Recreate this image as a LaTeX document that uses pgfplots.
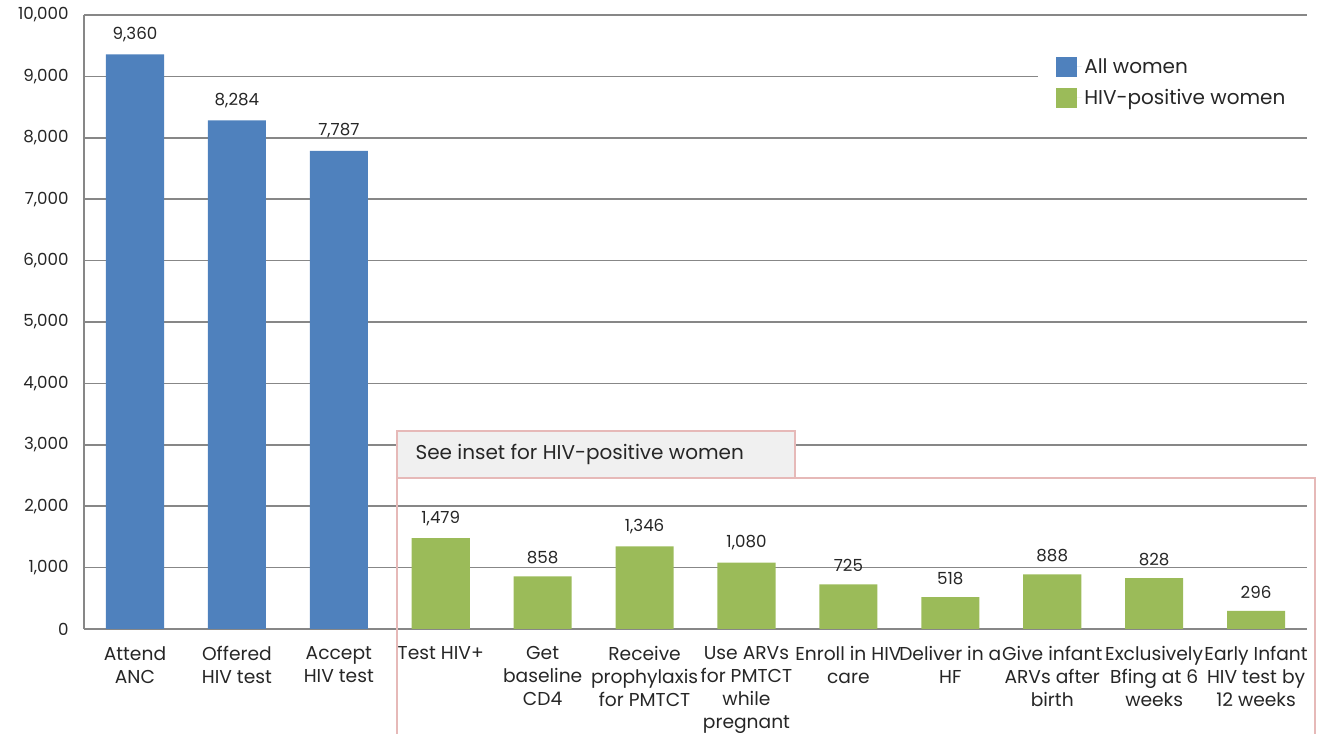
\documentclass[border=0pt]{standalone}
\usepackage{pgfplots}
\pgfplotsset{compat=1.18}
\usepackage{fontspec}
\setmainfont{Poppins}
\definecolor{barblue}{HTML}{4F81BD}
\definecolor{legblue}{HTML}{558ED5}
\definecolor{bargreen}{HTML}{9BBB59}
\definecolor{gridgray}{HTML}{878787}
\definecolor{txt}{HTML}{262626}
\definecolor{pinkline}{HTML}{E6B9B8}
\definecolor{boxfill}{HTML}{F0F0F0}
\begin{document}
\begin{tikzpicture}
\begin{axis}[
  width=917.25pt, height=460.5pt, scale only axis,
  xmin=-0.5, xmax=11.5, ymin=0, ymax=10000,
  ytick={0,1000,...,10000},
  scaled y ticks=false,
  xtick={0,...,11},
  xticklabels={{Attend\\ANC},{Offered\\HIV test},{Accept\\HIV test},{Test HIV+},{Get\\baseline\\CD4},{Receive\\prophylaxis\\for PMTCT},{Use ARVs\\for PMTCT\\while\\pregnant},{Enroll in HIV\\care},{Deliver in a\\HF},{Give infant\\ARVs after\\birth},{Exclusively\\Bfing at 6\\weeks},{Early Infant\\HIV test by\\12 weeks}},
  xticklabel style={align=center, font=\fontsize{14}{17.25}\selectfont, text=txt, yshift=-9.5pt},
  yticklabel style={font=\fontsize{12.5}{14}\selectfont, text=txt, xshift=-8pt},
  /pgf/number format/.cd, 1000 sep={,}, assume math mode=true, /pgfplots/.cd,
  axis x line*=bottom, axis y line*=left,
  axis line style={gridgray, line width=1.1pt, -},
  major tick length=0pt,
  ymajorgrids, major grid style={gridgray, line width=1.1pt},
  ybar, bar width=0.57, bar shift=0pt,
  nodes near coords={\pgfmathprintnumber[assume math mode=true]{\pgfplotspointmeta}},
  every node near coord/.append style={font=\fontsize{12.5}{14}\selectfont, text=txt, yshift=6pt},
  clip=false,
  legend style={at={(rel axis cs:1,0.947)}, anchor=north east, fill=white, draw=none,
    font=\fontsize{15}{18}\selectfont, text=txt, inner xsep=14pt, inner ysep=6pt, row sep=6.5pt},
  legend cell align=left,
  legend image code/.code={\fill[#1] (0pt,-7.75pt) rectangle (15.5pt,7.75pt); \path (0pt,0pt) -- (19pt,0pt);},
]
\addplot[fill=barblue, draw=none] coordinates {(0,9360) (1,8284) (2,7787)};
\addlegendentry{All women}
\addplot[fill=bargreen, draw=none] coordinates {(3,1479) (4,858) (5,1346) (6,1080) (7,725) (8,518) (9,888) (10,828) (11,296)};
\addlegendentry{HIV-positive women}
\draw[pinkline, line width=1.2pt] (axis cs:2.572,-1800) -- (axis cs:2.572,2459) -- (axis cs:11.58,2459) -- (axis cs:11.58,-1800);
\draw[pinkline, line width=1.2pt, fill=boxfill] (axis cs:2.572,2459) rectangle (axis cs:6.477,3225);
\node[anchor=west, font=\fontsize{15}{18}\selectfont, text=txt, inner sep=0pt] at (axis cs:2.75,2842) {See inset for HIV-positive women};
\coordinate (bbll) at (rel axis cs:-0.0687,-0.1694);
\coordinate (bbtr) at (rel axis cs:1.0106,1.0244);
\end{axis}
\pgfresetboundingbox
\useasboundingbox (bbll) rectangle (bbtr);
\end{tikzpicture}
\end{document}
